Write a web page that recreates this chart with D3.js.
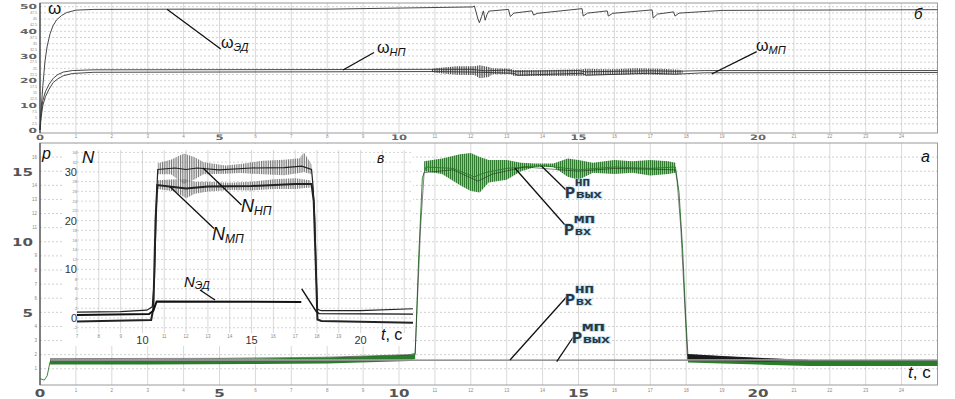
<!DOCTYPE html>
<html><head><meta charset="utf-8">
<script src="https://cdn.jsdelivr.net/npm/d3@7"></script>
<style>body{margin:0;background:#fff}svg{display:block}</style>
</head><body><svg id="c" width="955" height="399"></svg>
<script>
// ---------- tick labels ----------
const xMajor = [0, 5, 10, 15, 20];
const xMinor = [1,2,3,4,6,7,8,9,11,12,13,14,16,17,18,19,21,22,23,24];
const wMajor = [0, 10, 20, 30, 40, 50];
const wMinor = [2.5,5,7.5,12.5,15,17.5,22.5,25,27.5,32.5,35,37.5,42.5,45,47.5];
const pMajor = [5, 10, 15];
const pMinor = [1,2,3,4,6,7,8,9,11,12,13,14,16];
const nMajor = [0, 10, 20, 30];
const nMinor = [-2,2,4,6,8,12,14,16,18,22,24,26,28,32,34];
const inXMajor = [10, 15, 20];
const inXMinor = [7,8,9,11,12,13,14,16,17,18,19];

// ---------- panel б : rotational speeds ω(t) ----------
const omegaED = [[0,0],[0.03,8],[0.08,18],[0.14,28],[0.2,34],[0.28,39],[0.36,42.2],[0.46,44.6],[0.6,46.4],[0.74,47.6],[1.0,48.6],[1.5,48.9],[4,49],[8,49],[12.05,49.9],[12.1,50.3],[12.2,45],[12.24,43.5],[12.3,46],[12.35,48.3],[12.4,44.5],[12.45,46.8],[12.5,48.2],[13.05,48.9],[13.1,46],[13.2,47.4],[13.7,48.3],[13.75,46.6],[13.85,47.3],[15.1,49.2],[15.13,46.2],[15.25,47.4],[15.8,48.3],[15.83,46.2],[15.95,47.3],[17.05,48.7],[17.08,45.4],[17.2,47],[17.65,47.9],[17.69,46.2],[17.8,47.4],[19,48.5],[25,48.8]];
const omegaNP = [[0,0],[0.03,7],[0.08,12],[0.15,15.5],[0.25,18.5],[0.37,21],[0.5,22.5],[0.65,23.5],[0.9,24.1],[1.5,24.4],[8,24.5],[11,24.6],[12,24.6],[12.4,24],[13,24.3],[13.2,23.8],[15,24.1],[15.2,23.6],[17,24],[17.7,23.8],[18.5,24.1],[25,24.1]];
const omegaMP = [[0,0],[0.03,5],[0.08,10],[0.15,13.5],[0.25,16.5],[0.37,19.3],[0.5,20.8],[0.65,22],[0.9,22.9],[1.5,23.4],[8,23.6],[11,23.7],[12,23.5],[13.2,23],[13.3,22.2],[15.1,23],[15.2,22.2],[17,23],[17.7,22.6],[18.5,23.2],[25,23.3]];
// oscillation envelope of ω_НП / ω_МП: [t, low, high]
const omegaBand = [[10.9,23.6,24.6],[11.0,23.2,25.0],[11.6,22.4,25.8],[12.1,22.3,25.9],[12.25,21.0,26.3],[12.5,21.5,25.5],[12.6,22.6,25.0],[13.1,22.7,24.8],[13.2,21.9,24.3],[13.9,21.9,24.2],[15.1,22.0,24.6],[15.2,22.2,24.8],[15.9,22.3,24.6],[16.6,22.6,25.0],[17.3,22.4,24.8],[17.8,22.6,24.4],[17.9,23.0,24.1]];

// ---------- panel а : pressures p(t) ----------
const pOutNP = [[0,0.3],[0.12,0.2],[0.2,0.5],[0.28,1.5],[3,1.5],[6,1.55],[8,1.6],[10.3,1.8],[10.45,2.0],[10.55,9],[10.65,14.5],[10.75,15.3],[11.5,15.2],[12.1,14.6],[12.4,14.9],[13,15.2],[14,15.4],[15,15.1],[16,15.3],[17,15.2],[17.7,15.3],[17.8,13.5],[17.9,9.5],[17.98,5],[18.05,1.9],[19,1.6],[20,1.5],[21.4,1.4],[25,1.4]];
const pOutNPLow = [[0.28,1.3,1.68],[3,1.3,1.68],[6,1.33,1.72],[8,1.38,1.8],[10.3,1.55,2.0],[10.45,1.7,2.05]];
const pOutNPHigh = [[10.7,15.0,15.7],[11.2,14.8,15.9],[11.7,14.0,16.2],[12.0,13.6,16.3],[12.25,13.5,16.0],[12.5,14.2,15.8],[13.0,14.4,15.8],[13.4,15.0,15.6],[13.8,15.3,15.55],[14.3,15.3,15.55],[14.7,14.6,15.9],[15.0,14.4,15.8],[15.4,14.9,15.6],[16.0,14.8,15.8],[16.5,14.9,15.7],[17.0,14.7,15.8],[17.5,14.8,15.7],[17.7,14.9,15.6]];
const pOutNPTail = [[18.05,1.45,1.9],[19,1.38,1.8],[20,1.3,1.72],[21.4,1.2,1.62],[25,1.2,1.6]];
const pInMP = [[0.28,1.72],[5,1.74],[8,1.82],[10.3,2.0],[10.45,2.1],[10.6,11],[10.7,14.9],[11.5,15.1],[12.2,14.3],[12.6,14.8],[13.5,15.3],[15,15.0],[16,15.2],[17.7,15.1],[17.75,14.2],[17.85,11],[17.95,6],[18.03,2.0],[19,1.85],[20,1.72],[21.4,1.62]];
const pInMPTail = [[18.03,1.62,2.05],[19,1.56,1.9],[20,1.52,1.78],[21.4,1.56,1.63]];
const pInNP = [[0.3,1.62],[10,1.63],[18,1.64],[25,1.64]];
const pOutMP = [[0.3,1.58],[10,1.59],[18,1.6],[25,1.6]];

// ---------- inset в : powers N(t) ----------
const NNP = [[7,1.2],[9,1.3],[10.2,1.6],[10.45,2.3],[10.55,8],[10.65,25],[10.7,30.5],[11.5,30.8],[12,30.5],[12.5,30.8],[13.5,30.4],[15,30.8],[16.5,30.9],[17.3,31.2],[17.75,30.5],[17.82,27],[17.9,20],[17.97,8],[18.02,1.8],[18.2,1.5],[20,1.5],[22.4,1.9]];
const NNPBand = [[10.7,29.5,31.8],[11.3,29.5,32.5],[11.9,27.5,33.8],[12.4,28.5,33],[12.8,29.5,32],[13.8,29.6,31.3],[14.5,29.8,31.6],[15.5,29.5,32.3],[16.5,29.3,32.5],[17.2,29.8,32.8],[17.4,30,34],[17.75,29.5,31.5]];
const NMP = [[7,-0.7],[10.4,-0.4],[10.5,2],[10.6,20],[10.68,27.3],[12,26.6],[13,27],[15,27.1],[17,27.5],[17.75,27.5],[17.85,24],[17.95,10],[18.02,-0.3],[18.2,-0.6],[22.4,-1.0]];
const NMPBand = [[10.7,26.5,28.3],[11.5,26,28.5],[12.0,24.6,28.5],[12.4,25.5,28],[13,26,28],[14,26.3,27.8],[15,26.2,28],[16,26.5,28.5],[17,26.5,28.7],[17.7,26.8,28.3]];
const NED = [[7,0.6],[10.3,0.8],[10.5,1.5],[10.65,3.4],[17.28,3.3]];
const NED2 = [[17.3,6.0],[17.97,1.3],[18.1,0.9],[22.4,0.8]];

// ---------- drawing ----------
const svg = d3.select('#c');
const SANS = 'Liberation Sans, Arial, sans-serif';
const x = d3.scaleLinear().domain([0,25]).range([40,937.5]);
const yT = d3.scaleLinear().domain([-1.22,51.5]).range([133,3]);
const yB = d3.scaleLinear().domain([-0.15,17]).range([385,143]);
const xI = d3.scaleLinear().domain([7,22.4]).range([77,413]);
const yI = d3.scaleLinear().domain([-3,34.5]).range([332.6,150]);

const defs = svg.append('defs');
function hatch(id, bg, fg, w){
  const p = defs.append('pattern').attr('id',id).attr('width',w).attr('height',4).attr('patternUnits','userSpaceOnUse');
  if(bg) p.append('rect').attr('width',w).attr('height',4).attr('fill',bg);
  p.append('line').attr('x1',0.5).attr('x2',0.5).attr('y1',0).attr('y2',4).attr('stroke',fg).attr('stroke-width',0.9);
}
hatch('hG','#8fc888','#267326',2.0);
hatch('hK',null,'#333',1.8);
hatch('hN',null,'#666',1.8);

function stretched(g, cx, y, txt, w, size, color, anchor){
  const sx = anchor==='middle' ? cx-w/2 : anchor==='end' ? cx-w : cx;
  g.append('text').attr('x',sx).attr('y',y).attr('textLength',w).attr('lengthAdjust','spacingAndGlyphs')
   .attr('font-size',size).attr('font-weight','bold').attr('fill',color)
   .attr('font-family','DejaVu Sans, sans-serif').text(txt);
}
function tiny(g, cx, y, txt, size, anchor){
  g.append('text').attr('x',cx).attr('y',y).attr('font-size',size).attr('fill','#888')
   .attr('text-anchor',anchor).attr('font-family',SANS).text(txt);
}
const line = (sx,sy)=>d3.line().x(d=>sx(d[0])).y(d=>sy(d[1]));
const area = (sx,sy)=>d3.area().x(d=>sx(d[0])).y0(d=>sy(d[1])).y1(d=>sy(d[2]));

// ===== top panel =====
const gT = svg.append('g');
gT.selectAll('.vg').data(d3.range(1,25)).join('line')
  .attr('x1',d=>x(d)).attr('x2',d=>x(d)).attr('y1',3).attr('y2',133).attr('stroke','#cfcfcf').attr('stroke-width',0.8);
gT.selectAll('.hg').data(wMajor.concat(wMinor).filter(v=>v>0)).join('line')
  .attr('x1',40).attr('x2',937.5).attr('y1',d=>yT(d)).attr('y2',d=>yT(d))
  .attr('stroke','#bdbdbd').attr('stroke-width',0.7).attr('stroke-dasharray','2,2');
gT.append('rect').attr('x',40).attr('y',3).attr('width',897.5).attr('height',130).attr('fill','none').attr('stroke','#9a9a9a');
gT.append('line').attr('x1',40).attr('x2',40).attr('y1',3).attr('y2',133).attr('stroke','#444').attr('stroke-width',1.3);
wMajor.forEach(v=>stretched(gT,37,yT(v)+2.8,String(v),8.5*String(v).length,7,'#666','end'));
wMinor.forEach(v=>tiny(gT,37,yT(v)+1.3,String(v),3.6,'end'));
xMajor.forEach(v=>stretched(gT,x(v),140,String(v),8*String(v).length,7.5,'#666','middle'));
xMinor.forEach(v=>tiny(gT,x(v),138,String(v),4.5,'middle'));

gT.append('path').attr('d',area(x,yT)(omegaBand)).attr('fill','url(#hK)');
[omegaNP, omegaMP, omegaED].forEach(s=>gT.append('path').attr('d',line(x,yT)(s))
  .attr('fill','none').attr('stroke','#333').attr('stroke-width',0.9));

// labels top
function lead(g,x1,y1,x2,y2){g.append('line').attr('x1',x1).attr('y1',y1).attr('x2',x2).attr('y2',y2).attr('stroke','#111').attr('stroke-width',1.3);}
function subLabel(g,xx,yy,main,sub,ms,ss,dy,mainItalic){
  const t = g.append('text').attr('x',xx).attr('y',yy).attr('font-family',SANS).attr('fill','#111');
  t.append('tspan').attr('font-size',ms).attr('font-style',mainItalic?'italic':'normal').text(main);
  if(sub) t.append('tspan').attr('font-size',ss).attr('font-style','italic').attr('dy',dy).text(sub);
}
subLabel(gT,48,14,'ω',null,17);
lead(gT,167,9.3,220.7,49);
subLabel(gT,221,48,'ω','ЭД',16,11,3);
lead(gT,343,70,374,52.5);
subLabel(gT,377,53,'ω','НП',16,11,3);
lead(gT,711.7,74,756.7,51.7);
subLabel(gT,756,51,'ω','МП',16,11,3);
gT.append('text').attr('x',914).attr('y',19).attr('font-family',SANS).attr('font-style','italic').attr('font-size',15).attr('fill','#111').text('б');

// ===== lower panel =====
const gB = svg.append('g');
gB.selectAll('.vg').data(d3.range(1,25)).join('line')
  .attr('x1',d=>x(d)).attr('x2',d=>x(d)).attr('y1',143).attr('y2',385).attr('stroke','#cfcfcf').attr('stroke-width',0.8);
gB.selectAll('.hg').data(d3.range(1,17)).join('line')
  .attr('x1',40).attr('x2',937.5).attr('y1',d=>yB(d)).attr('y2',d=>yB(d))
  .attr('stroke','#bdbdbd').attr('stroke-width',0.7).attr('stroke-dasharray','2,2');
gB.append('rect').attr('x',40).attr('y',143).attr('width',897.5).attr('height',242).attr('fill','none').attr('stroke','#9a9a9a');
gB.append('line').attr('x1',40).attr('x2',40).attr('y1',143).attr('y2',385).attr('stroke','#555').attr('stroke-width',1.3);
pMajor.forEach(v=>stretched(gB,33,yB(v)+4.5,String(v),10.5*String(v).length,11,'#555','end'));
pMinor.forEach(v=>tiny(gB,37,yB(v)+1.6,String(v),4.5,'end'));
xMajor.forEach(v=>stretched(gB,x(v),396.5,String(v),10.5*String(v).length,10.5,'#555','middle'));
xMinor.forEach(v=>tiny(gB,x(v),392,String(v),4.5,'middle'));

// ===== inset =====
const gI = svg.append('g');
gI.append('rect').attr('x',63).attr('y',144).attr('width',350).attr('height',202).attr('fill','#fff');
gI.selectAll('.vg').data(d3.range(7,23)).join('line')
  .attr('x1',d=>xI(d)).attr('x2',d=>xI(d)).attr('y1',150).attr('y2',333).attr('stroke','#cfcfcf').attr('stroke-width',0.8);
gI.selectAll('.hg').data(d3.range(-2,35,2)).join('line')
  .attr('x1',77).attr('x2',413).attr('y1',d=>yI(d)).attr('y2',d=>yI(d))
  .attr('stroke','#c4c4c4').attr('stroke-width',0.7).attr('stroke-dasharray','2,2');
nMajor.forEach(v=>gI.append('text').attr('x',77).attr('y',yI(v)+4).attr('text-anchor','end')
  .attr('font-size',11).attr('font-family',SANS).attr('fill','#333').text(v));
nMinor.forEach(v=>tiny(gI,77,yI(v)+1.5,String(v),4,'end'));
inXMajor.forEach(v=>gI.append('text').attr('x',xI(v)).attr('y',344).attr('text-anchor','middle')
  .attr('font-size',11).attr('font-family',SANS).attr('fill','#333').text(v));
inXMinor.forEach(v=>tiny(gI,xI(v),338,String(v),4.5,'middle'));

gI.append('path').attr('d',area(xI,yI)(NNPBand)).attr('fill','url(#hN)');
gI.append('path').attr('d',area(xI,yI)(NMPBand)).attr('fill','url(#hN)');
gI.append('path').attr('d',line(xI,yI)(NNP)).attr('fill','none').attr('stroke','#222').attr('stroke-width',1.2);
gI.append('path').attr('d',line(xI,yI)(NMP)).attr('fill','none').attr('stroke','#222').attr('stroke-width',2);
gI.append('path').attr('d',line(xI,yI)(NED)).attr('fill','none').attr('stroke','#111').attr('stroke-width',2);
gI.append('path').attr('d',line(xI,yI)(NED2)).attr('fill','none').attr('stroke','#111').attr('stroke-width',1.4);

subLabel(gI,82,163,'N',null,17,0,0,true);
gI.append('text').attr('x',377).attr('y',163).attr('font-family',SANS).attr('font-style','italic').attr('font-size',14).attr('fill','#111').text('в');
lead(gI,203,168,241.5,205);
subLabel(gI,241,212,'N','НП',18,12,3,true);
lead(gI,170,186.7,214,228.5);
subLabel(gI,212,240,'N','МП',18,12,3,true);
lead(gI,200,290,215,300);
subLabel(gI,184,287,'N','ЭД',15,11,2,true);
const tc = gI.append('text').attr('x',381).attr('y',340).attr('font-family',SANS).attr('font-size',16).attr('fill','#111');
tc.append('tspan').attr('font-style','italic').text('t');
tc.append('tspan').text(', c');

// ===== pressure traces =====
const gP = svg.append('g');
gP.append('path').attr('d',area(x,yB)(pOutNPLow)).attr('fill','#2a7d2a');
gP.append('path').attr('d',area(x,yB)(pOutNPTail)).attr('fill','#2a7d2a');
gP.append('path').attr('d',area(x,yB)(pOutNPHigh)).attr('fill','url(#hG)');
gP.append('path').attr('d',line(x,yB)(pOutNP)).attr('fill','none').attr('stroke','#2a7a2a').attr('stroke-width',0.9);
gP.append('path').attr('d',area(x,yB)(pInMPTail)).attr('fill','#1a1a1a');
gP.append('path').attr('d',line(x,yB)(pInMP)).attr('fill','none').attr('stroke','#222').attr('stroke-width',0.7).attr('stroke-opacity',0.8);
gP.append('path').attr('d',line(x,yB)(pOutMP)).attr('fill','none').attr('stroke','#777').attr('stroke-width',1);
gP.append('path').attr('d',line(x,yB)(pInNP)).attr('fill','none').attr('stroke','#aaa').attr('stroke-width',1.2);

gP.append('text').attr('x',42).attr('y',159).attr('font-family',SANS).attr('font-style','italic').attr('font-size',16).attr('fill','#111').text('p');
gP.append('text').attr('x',921).attr('y',162).attr('font-family',SANS).attr('font-style','italic').attr('font-size',16).attr('fill','#111').text('а');
const tc2 = gP.append('text').attr('x',908).attr('y',378).attr('font-family',SANS).attr('font-size',17).attr('fill','#111');
tc2.append('tspan').attr('font-style','italic').text('t');
tc2.append('tspan').text(', c');

function pLabel(px,py,sup,sub,supW,subW){
  const st = s=>s.attr('font-family','Liberation Mono, monospace').attr('font-weight','bold')
    .attr('fill','#2b3440').attr('stroke','#a8d8ee').attr('stroke-width',1.2).attr('paint-order','stroke');
  st(gP.append('text').attr('x',px).attr('y',py).attr('font-size',17).text('Р'));
  st(gP.append('text').attr('x',px+10).attr('y',py-12).attr('font-size',11).attr('textLength',supW).attr('lengthAdjust','spacingAndGlyphs').text(sup));
  st(gP.append('text').attr('x',px+11).attr('y',py).attr('font-size',10).attr('textLength',subW).attr('lengthAdjust','spacingAndGlyphs').text(sub));
}
lead(gP,541.5,166,566,190);
pLabel(565,198,'НП','вых',15,26);
lead(gP,515,168.3,565,225);
pLabel(564,235,'МП','вх',21,16);
lead(gP,510,360,566.5,297);
pLabel(565,305,'НП','вх',19,16);
lead(gP,556.7,361.7,573.3,337);
pLabel(572,343,'МП','вых',23,27);
</script></body></html>
